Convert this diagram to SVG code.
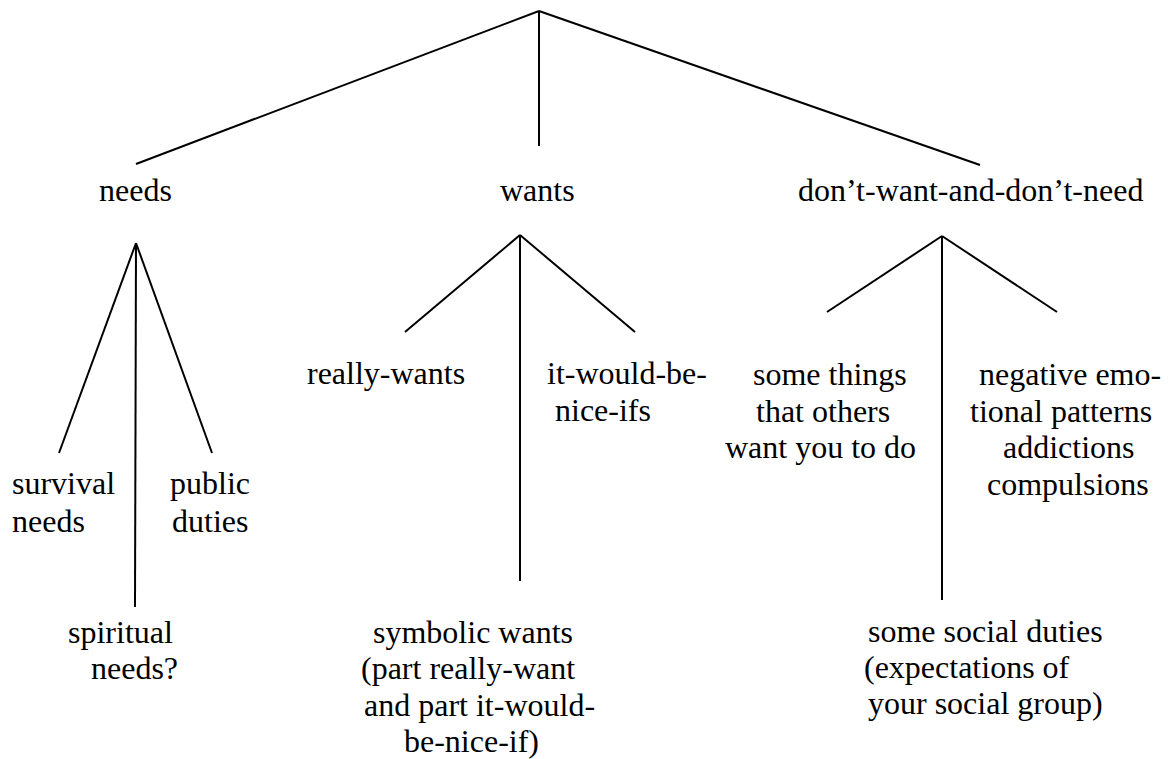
<svg xmlns="http://www.w3.org/2000/svg" width="1168" height="759" viewBox="0 0 1168 759">
<style>
  .t { font-family: "Liberation Serif", "Times New Roman", serif; font-size: 32px; fill: #000; }
  .c line { stroke: #000; stroke-width: 2; stroke-linecap: butt; }
</style>
<rect width="1168" height="759" fill="#fff"/>
<g id="connectors" class="c">
  <line x1="539" y1="11" x2="136" y2="164"/>
  <line x1="539" y1="11" x2="539" y2="146"/>
  <line x1="539" y1="11" x2="980" y2="165"/>
  <line x1="136" y1="243" x2="59" y2="453"/>
  <line x1="136" y1="243" x2="135" y2="607"/>
  <line x1="136" y1="243" x2="212" y2="453"/>
  <line x1="520" y1="235" x2="405" y2="332"/>
  <line x1="520" y1="235" x2="520" y2="581"/>
  <line x1="520" y1="235" x2="635" y2="332"/>
  <line x1="942" y1="236" x2="827" y2="312"/>
  <line x1="942" y1="236" x2="942" y2="600"/>
  <line x1="942" y1="236" x2="1057" y2="312"/>
</g>
<g id="needs"><text class="t" x="99" y="201">needs</text></g>
<g id="wants"><text class="t" x="500" y="200.5">wants</text></g>
<g id="dontwant"><text class="t" x="798" y="200.5">don’t-want-and-don’t-need</text></g>
<g id="survival"><text class="t" x="12" y="494">survival</text><text class="t" x="12" y="531.5">needs</text></g>
<g id="public"><text class="t" x="170" y="494">public</text><text class="t" x="172" y="531.5">duties</text></g>
<g id="spiritual"><text class="t" x="68" y="643">spiritual</text><text class="t" x="91" y="679">needs?</text></g>
<g id="reallywants"><text class="t" x="307" y="384">really-wants</text></g>
<g id="nice"><text class="t" x="547" y="384">it-would-be-</text><text class="t" x="555" y="421">nice-ifs</text></g>
<g id="symbolic">
  <text class="t" x="373" y="643">symbolic wants</text>
  <text class="t" x="361" y="679">(part really-want</text>
  <text class="t" x="364" y="715.5">and part it-would-</text>
  <text class="t" x="404" y="752">be-nice-if)</text>
</g>
<g id="others">
  <text class="t" x="753" y="385">some things</text>
  <text class="t" x="756" y="421.5">that others</text>
  <text class="t" x="725" y="458">want you to do</text>
</g>
<g id="negative">
  <text class="t" x="979" y="385">negative emo-</text>
  <text class="t" x="970" y="421.5">tional patterns</text>
  <text class="t" x="1003" y="458">addictions</text>
  <text class="t" x="987" y="494.5">compulsions</text>
</g>
<g id="social">
  <text class="t" x="868" y="642">some social duties</text>
  <text class="t" x="864" y="677.5">(expectations of</text>
  <text class="t" x="868" y="713.5">your social group)</text>
</g>
</svg>
